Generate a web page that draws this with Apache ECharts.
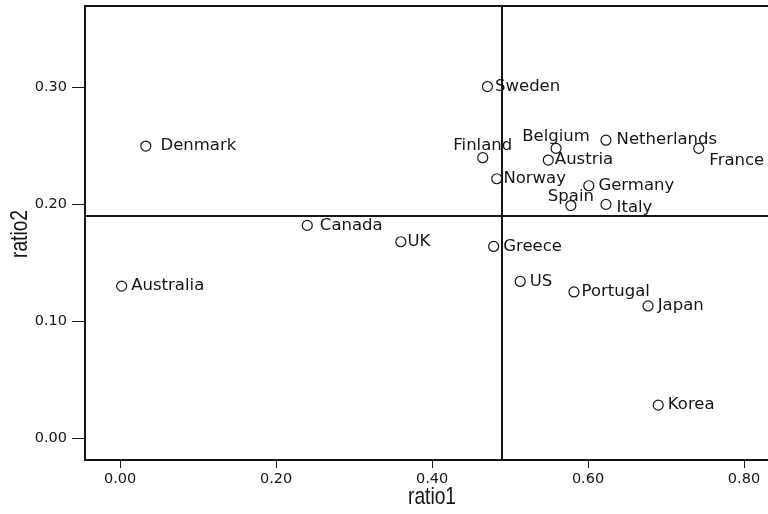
<!DOCTYPE html>
<html>
<head>
<meta charset="utf-8">
<style>
  html, body { margin: 0; padding: 0; background: #fff; }
  #chart { width: 768px; height: 514px; }
</style>
<script src="https://cdn.jsdelivr.net/npm/echarts@6/dist/echarts.min.js"></script>
</head>
<body>
<div id="chart"></div>
<script>
// Countries and their two ratios
const countries = ['Denmark', 'Australia', 'Canada', 'UK', 'Sweden', 'Finland', 'Belgium',
  'Netherlands', 'France', 'Austria', 'Norway', 'Germany', 'Spain', 'Italy', 'Greece',
  'US', 'Portugal', 'Japan', 'Korea'];
const ratio1 = [0.033, 0.002, 0.240, 0.360, 0.471, 0.465, 0.559, 0.623, 0.742, 0.549,
  0.483, 0.601, 0.578, 0.623, 0.479, 0.513, 0.582, 0.677, 0.690];
const ratio2 = [0.250, 0.130, 0.182, 0.168, 0.301, 0.240, 0.248, 0.255, 0.248, 0.238,
  0.222, 0.216, 0.199, 0.200, 0.164, 0.134, 0.125, 0.113, 0.028];
const xTicks = [0.00, 0.20, 0.40, 0.60, 0.80];
const yTicks = [0.00, 0.10, 0.20, 0.30];
const xTitle = 'ratio1';
const yTitle = 'ratio2';

// Label placement per country (position, gap, nudge)
const labelPlacement = {
  Denmark: { position: 'right', distance: 9 },
  Australia: { position: 'right', distance: 4 },
  Canada: { position: 'right', distance: 7 },
  UK: { position: 'right', distance: 1 },
  Sweden: { position: 'right', distance: 2 },
  Finland: { position: 'top', distance: -2 },
  Belgium: { position: 'top', distance: -2 },
  Netherlands: { position: 'right', distance: 5 },
  France: { position: 'right', distance: 5, offset: [0, 12] },
  Austria: { position: 'right', distance: 1 },
  Norway: { position: 'right', distance: 1 },
  Germany: { position: 'right', distance: 4 },
  Spain: { position: 'top', distance: -5 },
  Italy: { position: 'right', distance: 5, offset: [0, 3] },
  Greece: { position: 'right', distance: 4 },
  US: { position: 'right', distance: 4 },
  Portugal: { position: 'right', distance: 2 },
  Japan: { position: 'right', distance: 4 },
  Korea: { position: 'right', distance: 4 }
};

const mean = arr => arr.reduce((s, v) => s + v, 0) / arr.length;

const points = countries.map((name, i) => {
  const p = labelPlacement[name] || { position: 'right', distance: 4 };
  return {
    name: name,
    value: [ratio1[i], ratio2[i]],
    label: { position: p.position, distance: p.distance, offset: p.offset || [0, 0] }
  };
});

const ink = '#151515';
const tickFont = { fontFamily: 'DejaVu Sans', fontSize: 14.5, color: ink };
const titleStyle = { fontFamily: 'Liberation Sans, Arial, sans-serif', fontSize: 24, fill: ink };

const chart = echarts.init(document.getElementById('chart'), null, { renderer: 'canvas' });
chart.setOption({
  animation: false,
  backgroundColor: '#ffffff',
  grid: {
    left: 85, top: 6, bottom: 54, width: 698,
    outerBoundsMode: 'none', containLabel: false,
    show: true, borderColor: ink, borderWidth: 2, backgroundColor: 'transparent'
  },
  xAxis: {
    type: 'value',
    min: -0.045, max: 0.85,
    axisLine: { show: true, onZero: false, lineStyle: { color: ink, width: 2 } },
    axisTick: { show: true, length: 8, customValues: xTicks, lineStyle: { color: ink, width: 1 } },
    axisLabel: { show: true, customValues: xTicks, margin: 12, formatter: v => v.toFixed(2), ...tickFont },
    splitLine: { show: false }
  },
  yAxis: {
    type: 'value',
    min: -0.019, max: 0.37,
    axisLine: { show: true, onZero: false, lineStyle: { color: ink, width: 2 } },
    axisTick: { show: true, length: 13, customValues: yTicks, lineStyle: { color: ink, width: 1 } },
    axisLabel: { show: true, customValues: yTicks, margin: 18, formatter: v => v.toFixed(2), ...tickFont },
    splitLine: { show: false }
  },
  // Axis titles in a condensed face
  graphic: [
    {
      type: 'text', x: 432, y: 497, scaleX: 0.8,
      style: { text: xTitle, align: 'center', verticalAlign: 'middle', ...titleStyle }
    },
    {
      type: 'text', x: 20, y: 234, rotation: Math.PI / 2, scaleX: 0.8,
      style: { text: yTitle, align: 'center', verticalAlign: 'middle', ...titleStyle }
    }
  ],
  series: [{
    type: 'scatter',
    symbol: 'circle',
    symbolSize: 10,
    itemStyle: { color: '#ffffff', borderColor: ink, borderWidth: 1.2, opacity: 1 },
    label: {
      show: true,
      formatter: '{b}',
      fontFamily: 'DejaVu Sans',
      fontSize: 16.5,
      color: ink
    },
    emphasis: { disabled: true },
    data: points,
    markLine: {
      silent: true,
      symbol: ['none', 'none'],
      label: { show: false },
      lineStyle: { color: ink, width: 2, type: 'solid' },
      data: [
        { xAxis: mean(ratio1) },
        { yAxis: mean(ratio2) }
      ]
    }
  }]
});
</script>
</body>
</html>
